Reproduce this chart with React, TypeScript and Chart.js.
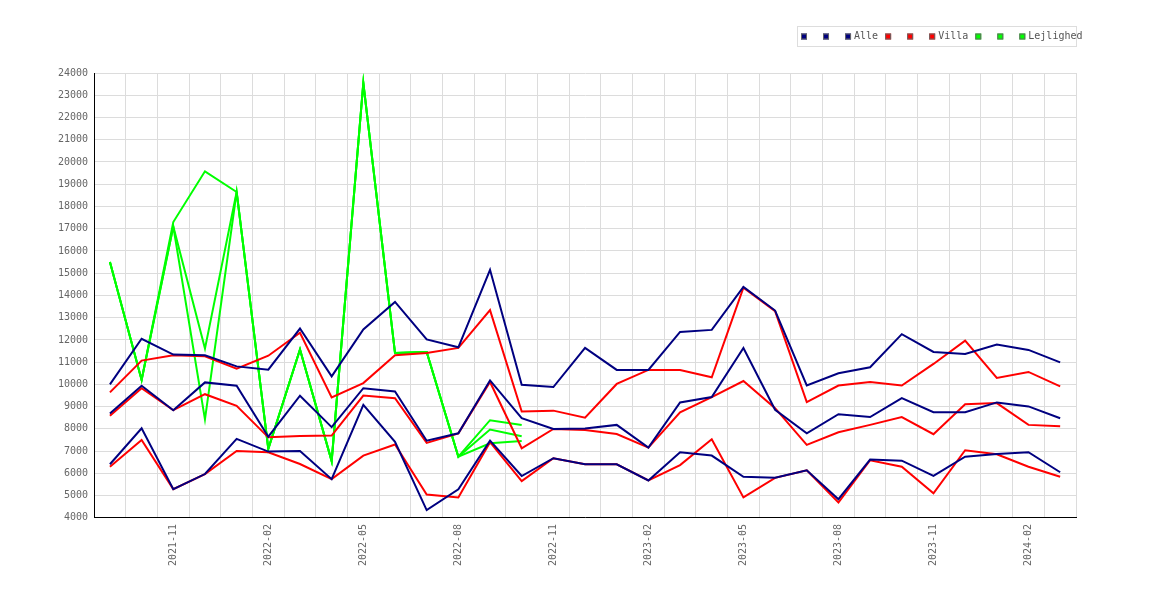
import React, { useEffect, useRef } from "react";
import { Chart, registerables } from "chart.js";

Chart.register(...registerables);

const months = [
  "2021-09", "2021-10", "2021-11", "2021-12", "2022-01", "2022-02", "2022-03", "2022-04",
  "2022-05", "2022-06", "2022-07", "2022-08", "2022-09", "2022-10", "2022-11", "2022-12",
  "2023-01", "2023-02", "2023-03", "2023-04", "2023-05", "2023-06", "2023-07", "2023-08",
  "2023-09", "2023-10", "2023-11", "2023-12", "2024-01", "2024-02", "2024-03",
];

// Alle
const alleLow = [
  6410, 8030, 5290, 5970, 7550, 6980, 7010, 5740, 9080, 7420, 4350, 5280, 7470, 5880, 6680, 6410,
  6410, 5680, 6950, 6800, 5850, 5800, 6140, 4840, 6620, 6570, 5890, 6750, 6870, 6950, 6050,
];
const alleMid = [
  8690, 9940, 8840, 10090, 9940, 7650, 9490, 8080, 9830, 9680, 7470, 7800, 10180, 8480, 8000, 8020,
  8180, 7160, 9190, 9430, 11640, 8860, 7800, 8660, 8530, 9380, 8750, 8750, 9190, 9010, 8480,
];
const alleHigh = [
  10000, 12050, 11340, 11310, 10810, 10660, 12510, 10360, 12470, 13710, 12020, 11670, 15150, 9980,
  9880, 11640, 10650, 10650, 12360, 12450, 14380, 13320, 9950, 10500, 10770, 12260, 11460, 11370,
  11790, 11550, 10990,
];

// Villa
const villaLow = [
  6300, 7500, 5290, 5970, 7010, 6950, 6420, 5740, 6800, 7300, 5050, 4920, 7400, 5650, 6680, 6410,
  6410, 5680, 6370, 7530, 4920, 5800, 6140, 4690, 6590, 6300, 5100, 7040, 6860, 6300, 5850,
];
const villaMid = [
  8590, 9830, 8840, 9560, 9040, 7620, 7680, 7700, 9500, 9380, 7370, 7800, 10110, 7130, 8000, 7950,
  7770, 7160, 8740, 9430, 10150, 8930, 7280, 7850, 8180, 8530, 7760, 9110, 9160, 8180, 8120,
];
const villaHigh = [
  9640, 11070, 11310, 11260, 10710, 11290, 12320, 9410, 10060, 11310, 11410, 11640, 13340, 8780,
  8820, 8500, 10020, 10650, 10650, 10320, 14350, 13290, 9200, 9950, 10110, 9950, 10920, 11970,
  10290, 10560, 9910,
];

// Lejlighed (no data after 2022-10)
const lejlighedLow = [
  15500, 10200, 17100, 8430, 18650, 7100, 11570, 6550, 23550, 11410, 11460, 6750, 7350, 7450,
];
const lejlighedMid = [
  15500, 10200, 17100, 11610, 18650, 7100, 11570, 6550, 23550, 11410, 11460, 6750, 7970, 7670,
];
const lejlighedHigh = [
  15500, 10200, 17300, 19580, 18650, 7100, 11570, 6550, 23550, 11410, 11460, 6750, 8390, 8170,
];

const NAVY = "#000080";
const RED = "#ff0000";
const GREEN = "#00ff00";
const FONT = { family: '"DejaVu Sans Mono", monospace', size: 10 };

const pad = (arr: number[]) => months.map((_, i) => (i < arr.length ? arr[i] : null));

// legend drawn as a framed row of small squares, right edge at the plot edge
const legendBox = {
  id: "legendBox",
  afterDraw(chart: Chart) {
    const { ctx, chartArea } = chart;
    const right = chartArea.right;
    const left = right - 279;
    const top = 18;
    const cy = 28.5;
    ctx.save();
    ctx.strokeStyle = "#dddddd";
    ctx.lineWidth = 1;
    ctx.strokeRect(left + 0.5, top + 0.5, right - left, 20);
    ctx.font = '10px "DejaVu Sans Mono"';
    ctx.textBaseline = "middle";
    let x = left + 4;
    chart.data.datasets.forEach((ds) => {
      const text = ds.label || " ";
      ctx.fillStyle = ds.borderColor as string;
      ctx.fillRect(x, cy - 3, 6, 6);
      ctx.strokeStyle = "#666666";
      ctx.strokeRect(x + 0.5, cy - 2.5, 5, 5);
      ctx.fillStyle = "#555555";
      ctx.fillText(text, x + 9, cy);
      x += 9 + ctx.measureText(text).width + 7;
    });
    ctx.restore();
  },
};

const App: React.FC = () => {
  const canvasRef = useRef<HTMLCanvasElement>(null);
  const chartRef = useRef<Chart | null>(null);

  useEffect(() => {
    if (!canvasRef.current) return;
    if (chartRef.current) chartRef.current.destroy();

    const line = (label: string, data: number[], color: string) => ({
      label,
      data: pad(data),
      borderColor: color,
      backgroundColor: color,
      borderWidth: 2,
      pointRadius: 0,
      tension: 0,
      fill: false,
    });

    chartRef.current = new Chart(canvasRef.current, {
      type: "line",
      data: {
        labels: months,
        datasets: [
          line("", alleLow, NAVY),
          line("", alleHigh, NAVY),
          line("Alle", alleMid, NAVY),
          line("", villaLow, RED),
          line("", villaHigh, RED),
          line("Villa", villaMid, RED),
          line("", lejlighedLow, GREEN),
          line("", lejlighedHigh, GREEN),
          line("Lejlighed", lejlighedMid, GREEN),
        ],
      },
      options: {
        animation: false,
        responsive: true,
        maintainAspectRatio: false,
        layout: { padding: { left: 44, right: 86, top: 65, bottom: 20 } },
        plugins: {
          legend: { display: false },
          tooltip: { enabled: false },
        },
        scales: {
          x: {
            offset: true,
            grid: { offset: true, color: "#dcdcdc", drawTicks: false },
            border: { color: "#000000" },
            ticks: {
              autoSkip: false,
              minRotation: 90,
              maxRotation: 90,
              padding: 6,
              color: "#666666",
              font: FONT,
              callback: (_v, i) => (i % 3 === 2 ? months[i] : ""),
            },
          },
          y: {
            min: 4000,
            max: 24000,
            grid: { color: "#dcdcdc", drawTicks: false },
            border: { color: "#000000" },
            ticks: {
              stepSize: 1000,
              padding: 6,
              color: "#666666",
              font: FONT,
              callback: (v) => String(v),
            },
          },
        },
      },
      plugins: [legendBox],
    });

    return () => {
      if (chartRef.current) {
        chartRef.current.destroy();
        chartRef.current = null;
      }
    };
  }, []);

  return (
    <div style={{ height: "584px", position: "relative" }}>
      <canvas ref={canvasRef}></canvas>
    </div>
  );
};

export default App;
